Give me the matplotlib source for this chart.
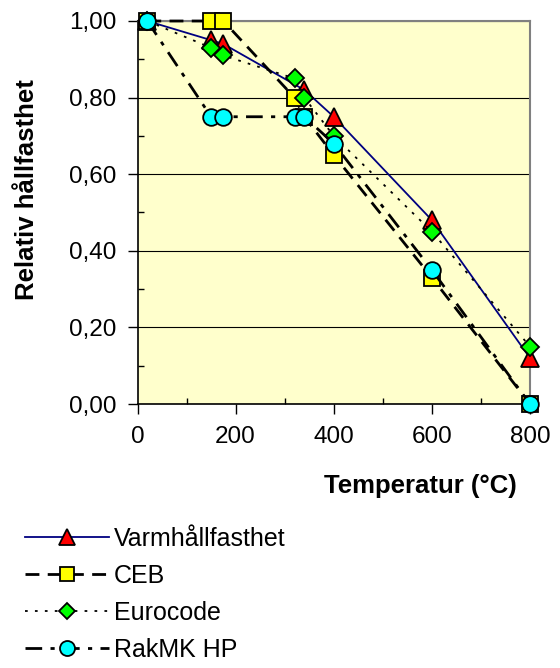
import matplotlib
matplotlib.use("Agg")
import matplotlib.pyplot as plt
from matplotlib.ticker import MultipleLocator, FuncFormatter

plt.rcParams['font.family'] = ['Liberation Sans', 'DejaVu Sans']

# Temperature (°C) and relative strength for each source
temp_varm = [20, 150, 175, 340, 400, 600, 800]
varm = [1.00, 0.95, 0.94, 0.82, 0.75, 0.48, 0.12]

temp_ceb = [20, 150, 175, 320, 340, 400, 600, 800]
ceb = [1.00, 1.00, 1.00, 0.80, 0.75, 0.65, 0.33, 0.00]

temp_euro = [20, 150, 175, 320, 340, 400, 600, 800]
euro = [1.00, 0.93, 0.91, 0.85, 0.80, 0.70, 0.45, 0.15]

temp_rak = [20, 150, 175, 320, 340, 400, 600, 800]
rak = [1.00, 0.75, 0.75, 0.75, 0.75, 0.68, 0.35, 0.00]

series_names = ["Varmhållfasthet", "CEB", "Eurocode", "RakMK HP"]
x_ticks = [0, 200, 400, 600, 800]
y_ticks = [0.0, 0.2, 0.4, 0.6, 0.8, 1.0]

FS = 17.5
FS_LABEL = 18.5
FS_LEG = 18

fig = plt.figure(figsize=(5.6, 6.68), dpi=100)
ax = fig.add_axes([137.5 / 560, 1 - 404 / 668, (530 - 137.5) / 560, (404 - 21) / 668])
ax.set_facecolor('#FFFFCC')

mew = 1.3
l1, = ax.plot(temp_varm, varm, color='#000080', lw=1.3, marker='^', ms=13,
              mfc='#FF0000', mec='black', mew=mew, clip_on=False, zorder=3)
l2, = ax.plot(temp_ceb, ceb, color='black', lw=2.0, ls=(0, (5, 3)), marker='s', ms=11.5,
              mfc='#FFFF00', mec='black', mew=mew, clip_on=False, zorder=4)
l3, = ax.plot(temp_euro, euro, color='black', lw=1.3, ls=(0, (1.5, 4)), marker='D', ms=9.5,
              mfc='#00FF00', mec='black', mew=mew, clip_on=False, zorder=5)
l4, = ax.plot(temp_rak, rak, color='black', lw=2.0, ls=(0, (6, 3, 1.5, 3)), marker='o', ms=12,
              mfc='#00FFFF', mec='black', mew=mew, clip_on=False, zorder=6)

ax.set_xlim(0, 800)
ax.set_ylim(0, 1.0)
ax.set_xticks(x_ticks)
ax.set_yticks(y_ticks)
ax.xaxis.set_minor_locator(MultipleLocator(100))
ax.yaxis.set_minor_locator(MultipleLocator(0.1))
ax.yaxis.set_major_formatter(FuncFormatter(lambda v, p: f"{v:.2f}".replace('.', ',')))

ax.grid(axis='y', which='major', color='black', lw=0.8)
ax.set_axisbelow(True)

for s in ['left', 'bottom']:
    ax.spines[s].set_color('black')
    ax.spines[s].set_linewidth(1.2)
for s in ['top', 'right']:
    ax.spines[s].set_color('#808080')
    ax.spines[s].set_linewidth(1.5)

ax.tick_params(which='major', direction='out', length=7, width=1, labelsize=FS, colors='black')
ax.tick_params(axis='x', which='major', pad=9)
ax.tick_params(axis='y', which='major', pad=8)
ax.tick_params(which='minor', direction='in', length=4, width=1)

ax.set_xlabel("Temperatur (°C)", fontsize=FS_LABEL, fontweight='bold')
ax.xaxis.set_label_coords(0.72, -0.182)
ax.set_ylabel("Relativ hållfasthet", fontsize=FS_LABEL, fontweight='bold')
ax.yaxis.set_label_coords(-0.25, 0.56)

leg = fig.legend([l1, l2, l3, l4], series_names, loc='upper left',
                 bbox_to_anchor=(20 / 560, 1 - 522 / 668), frameon=False,
                 fontsize=FS_LEG, handlelength=3.35, handletextpad=0.2,
                 labelspacing=0.52, markerscale=0.9, borderpad=0.2, borderaxespad=0)

fig.savefig("out.png", dpi=100, facecolor='white')
